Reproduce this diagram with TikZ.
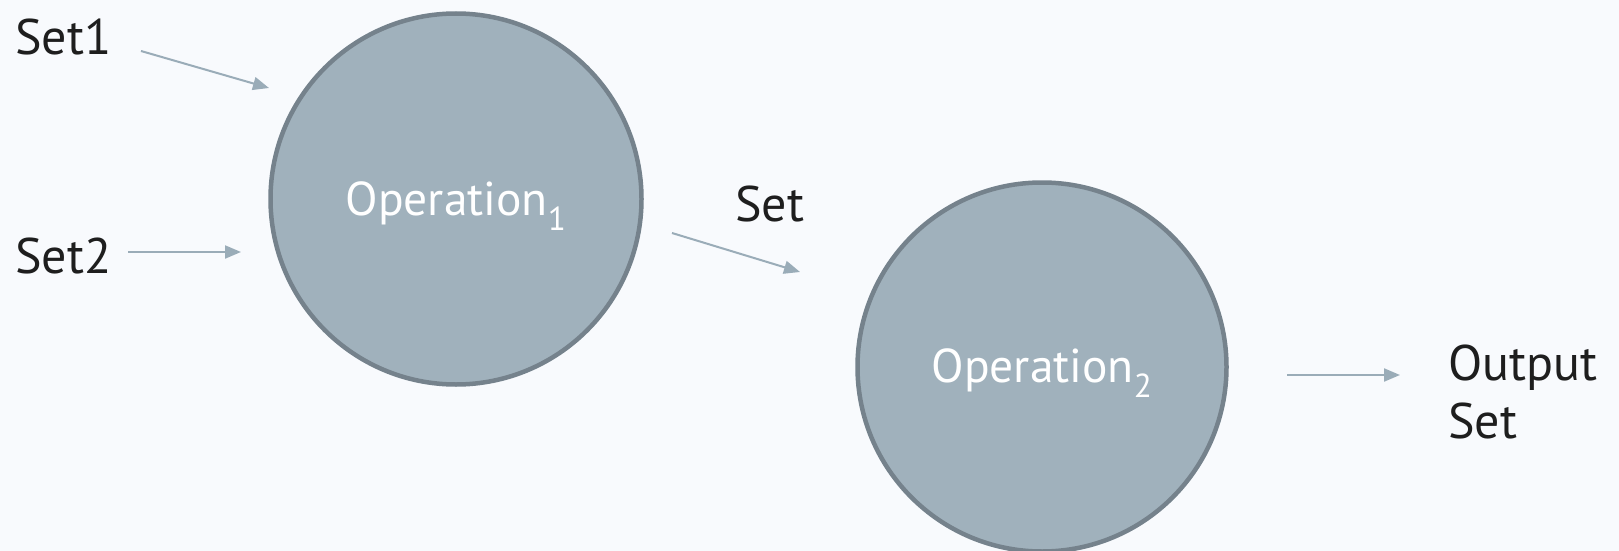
\documentclass[tikz,border=0pt]{standalone}
\usepackage{fontspec}
\setmainfont{PT Sans}
\usetikzlibrary{arrows.meta}
\definecolor{bg}{HTML}{F8FAFD}
\definecolor{opfill}{HTML}{A0B1BC}
\definecolor{opline}{HTML}{75828C}
\definecolor{arr}{HTML}{9AACB8}
\definecolor{txt}{HTML}{1E1E1E}
\tikzset{
  opnode/.style={circle, fill=opfill, draw=opline, line width=4.5pt, minimum size=371pt, inner sep=0pt,
    text=white, font=\fontsize{47.5}{56}\selectfont},
  lbl/.style={inner sep=0pt, text=txt, font=\fontsize{50}{58}\selectfont, anchor=base west},
  flow/.style={draw=arr, line width=2pt, -{Triangle[length=16pt,width=13pt]}}
}
\begin{document}
\begin{tikzpicture}[x=1pt,y=-1pt]
\fill[bg] (0,0) rectangle (1619,551);
\useasboundingbox (0,0) rectangle (1619,551);
\begin{scope}
\clip (0,0) rectangle (1619,551);
\node[opnode] (op1) at (456,199) {\raisebox{-7pt}[\height][\depth]{Operation\textsubscript{1}}};
\node[opnode, minimum size=369pt] (op2) at (1042,367) {\raisebox{-6pt}[\height][\depth]{Operation\textsubscript{2}}};
\end{scope}
\node[lbl] (set1) at (15,55) {Set1};
\node[lbl] (set2) at (15,273) {Set2};
\node[lbl] (setm) at (735,221) {Set};
\node[lbl, align=left, anchor=north west] (out) at (1448,345) {Output\\Set};
\coordinate (a1s) at (141,51);
\coordinate (a1e) at (269,88);
\coordinate (a2s) at (128,252);
\coordinate (a2e) at (241,252);
\coordinate (a3s) at (672,233);
\coordinate (a3e) at (800,272);
\coordinate (a4s) at (1287,375);
\coordinate (a4e) at (1400,375);
\draw[flow] (a1s) -- (a1e);
\draw[flow] (a2s) -- (a2e);
\draw[flow] (a3s) -- (a3e);
\draw[flow] (a4s) -- (a4e);
\end{tikzpicture}
\end{document}
